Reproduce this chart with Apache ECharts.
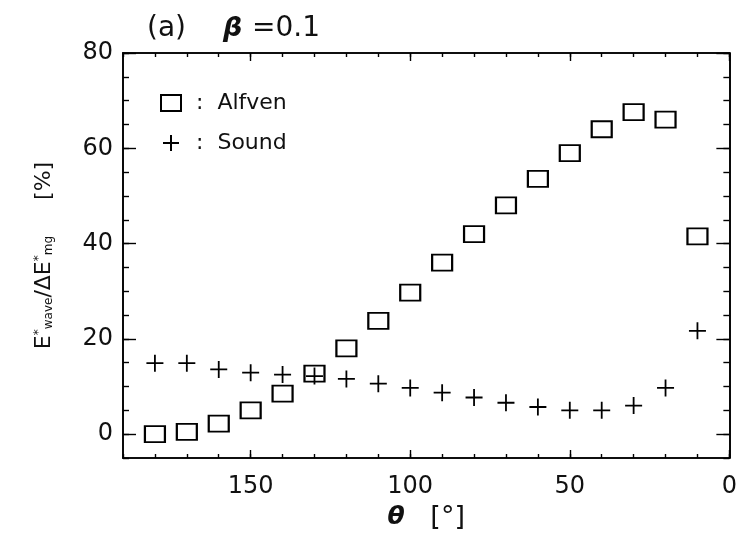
<!DOCTYPE html>
<html>
<head>
<meta charset="utf-8">
<script src="https://cdn.jsdelivr.net/npm/echarts@6/dist/echarts.min.js"></script>
<style>html,body{margin:0;padding:0;background:#fff}#c{width:740px;height:539px}</style>
</head>
<body>
<div id="c"></div>
<script>
const thetaDeg = [180,170,160,150,140,130,120,110,100,90,80,70,60,50,40,30,20,10];
const alfven = [0,0.5,2.2,5,8.5,12.7,18,23.8,29.7,36,42,48,53.6,59,64,67.6,66,41.5];
const sound = [14.9,14.9,13.6,12.9,12.5,12.2,11.6,10.6,9.7,8.7,7.7,6.6,5.7,5.0,5.0,6.0,9.7,21.7];
const xMajorTicks = [0,50,100,150];
const yMajorTicks = [0,20,40,60,80];
const seriesNames = ['Alfven','Sound'];

const FONT = 'DejaVu Sans';
const INK = '#111';
const plusPath = 'path://M0,10H20M10,0V20';

const chart = echarts.init(document.getElementById('c'), null, {renderer:'canvas'});

function xAxisDef(pos, major, withLabel) {
  const a = {
    type:'value', position:pos, min:0, max:190, inverse:true, gridIndex:0,
    splitLine:{show:false},
    axisLine:{show:true, onZero:false, lineStyle:{color:'#000', width:1.6}},
    axisTick:{show:true, inside:true, length: major ? 8 : 4, lineStyle:{color:'#000', width:1.4}},
    axisLabel:{show:false}
  };
  if (major) {
    a.axisTick.customValues = xMajorTicks;
    if (withLabel) a.axisLabel = {show:true, customValues:xMajorTicks, fontFamily:FONT, fontSize:24, color:INK, margin:17};
  } else {
    a.interval = 10;
  }
  return a;
}
function yAxisDef(pos, major, withLabel) {
  const a = {
    type:'value', position:pos, min:-5, max:80, gridIndex:0,
    splitLine:{show:false},
    axisLine:{show:true, onZero:false, lineStyle:{color:'#000', width:1.6}},
    axisTick:{show:true, inside:true, length: major ? 13 : 6, lineStyle:{color:'#000', width:1.4}},
    axisLabel:{show:false}
  };
  if (major) {
    a.axisTick.customValues = yMajorTicks;
    if (withLabel) a.axisLabel = {show:true, customValues:yMajorTicks, fontFamily:FONT, fontSize:24, color:INK, margin:10};
  } else {
    a.interval = 5;
  }
  return a;
}

const xa = [xAxisDef('bottom', true, true), xAxisDef('bottom', false), xAxisDef('top', true, false), xAxisDef('top', false)];
xa[0].name = '{t|θ}{n|   [°]}';
xa[0].nameLocation = 'middle';
xa[0].nameGap = 46;
xa[0].nameTextStyle = {color:INK, fontFamily:FONT, rich:{
  t:{fontSize:25, fontWeight:'bold', fontStyle:'italic', fontFamily:FONT, color:INK},
  n:{fontSize:27, fontFamily:FONT, color:INK}
}};
const ya = [yAxisDef('left', true, true), yAxisDef('left', false), yAxisDef('right', true, false), yAxisDef('right', false)];
ya[0].name = '{e|E}{s|*}{w|wave}{n|/ΔE}{s|*}{w|mg}{g| }{n|[%]}';
ya[0].nameLocation = 'middle';
ya[0].nameGap = 68;
ya[0].nameTextStyle = {color:INK, fontFamily:FONT, rich:{
  e:{fontSize:22, fontFamily:FONT, color:INK},
  n:{fontSize:22, fontFamily:FONT, color:INK},
  s:{fontSize:12, fontFamily:FONT, color:INK, verticalAlign:'top'},
  w:{fontSize:12, fontFamily:FONT, color:INK, verticalAlign:'bottom'},
  g:{fontSize:22, width:36}
}};

const option = {
  backgroundColor:'#fff',
  animation:false,
  title:{
    text:'{p|(a)}{b|β}{n|=0.1}',
    left:142, top:10,
    textStyle:{fontFamily:FONT, color:INK, fontWeight:'normal', rich:{
      p:{fontSize:28, fontFamily:FONT, color:INK, fontWeight:'normal', width:76},
      b:{fontSize:27, fontFamily:FONT, color:INK, fontWeight:'bold', fontStyle:'italic', width:29},
      n:{fontSize:28, fontFamily:FONT, color:INK, fontWeight:'normal'}
    }}
  },
  grid:{left:123, right:7, top:53, bottom:81},
  legend:{
    orient:'vertical', left:155, top:87,
    itemWidth:20, itemHeight:16, itemGap:18,
    data:[{name:seriesNames[0], icon:'rect'}, {name:seriesNames[1], icon:plusPath}],
    itemStyle:{color:'rgba(0,0,0,0)', borderColor:'#000', borderWidth:2},
    formatter: n => '{c|:}{t|' + n + '}',
    textStyle:{fontFamily:FONT, fontSize:22, color:INK, rich:{
      c:{fontFamily:FONT, fontSize:22, color:INK, padding:[0,14,0,10]},
      t:{fontFamily:FONT, fontSize:22, color:INK}
    }},
    selectedMode:false
  },
  xAxis: xa,
  yAxis: ya,
  series:[
    {name:seriesNames[0], type:'scatter', xAxisIndex:0, yAxisIndex:0,
     data: thetaDeg.map((t,i)=>[t, alfven[i]]),
     symbol:'rect', symbolSize:[20,16],
     itemStyle:{color:'rgba(0,0,0,0)', borderColor:'#000', borderWidth:2, opacity:1},
     emphasis:{disabled:true}},
    {name:seriesNames[1], type:'scatter', xAxisIndex:0, yAxisIndex:0,
     data: thetaDeg.map((t,i)=>[t, sound[i]]),
     symbol:plusPath, symbolSize:[17,17],
     itemStyle:{color:'rgba(0,0,0,0)', borderColor:'#000', borderWidth:1.8, opacity:1},
     emphasis:{disabled:true}}
  ]
};
chart.setOption(option);
</script>
</body>
</html>
